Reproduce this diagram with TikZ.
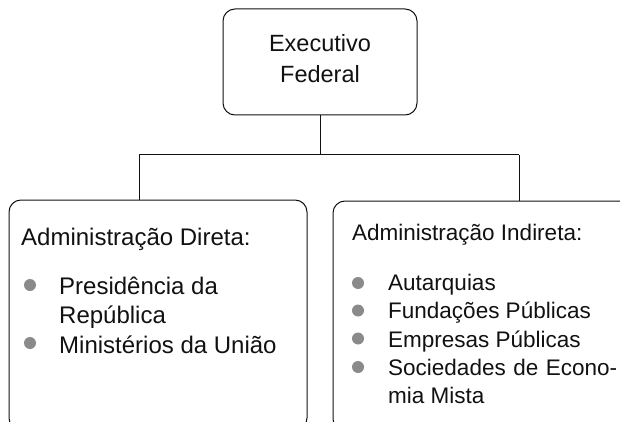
\documentclass[tikz,border=0pt]{standalone}
\usepackage{fontspec}
\setmainfont{Liberation Sans}
\definecolor{txt}{HTML}{111111}
\definecolor{bul}{HTML}{8A8A8A}
\begin{document}
\begin{tikzpicture}[x=1pt,y=-1pt,
  box/.style={draw=txt, line width=1pt, rounded corners=12pt, inner sep=0pt},
  conn/.style={draw=txt, line width=1pt},
  big/.style={text=txt, inner sep=0pt, font=\fontsize{24}{28}\selectfont},
  small/.style={text=txt, inner sep=0pt, font=\fontsize{22.5}{28}\selectfont},
  dot/.style={circle, fill=bul, inner sep=0pt, minimum size=12pt}]
\useasboundingbox (0,0) rectangle (620,422);
\clip (0,0) rectangle (620,422);
% boxes
\node[box, minimum width=194pt, minimum height=106pt] (top) at (320,62) {};
\node[box, minimum width=298pt, minimum height=230pt] (direta) at (158,315) {};
\node[box, minimum width=310pt, minimum height=230pt] (indireta) at (488,316) {};
% connectors
\coordinate (jl) at (139,155);
\coordinate (jr) at (519,155);
\draw[conn] (top.south) -- (top.south |- jl);
\draw[conn] (jl) -- (jr);
\draw[conn] (jl) -- (jl |- direta.north);
\draw[conn] (jr) -- (jr |- indireta.north);
% top text
\node[big, anchor=base, font=\fontsize{23.5}{28}\selectfont] (t1) at (320,52) {Executivo};
\node[big, anchor=base, font=\fontsize{23.5}{28}\selectfont] (t2) at (320,83) {Federal};
% left text
\node[big, anchor=base west] (lh) at (21,245) {Administração Direta:};
\node[dot] (lb1) at (30,285) {};
\node[big, anchor=base west] (l1) at (59,294) {Presidência da};
\node[big, anchor=base west] (l2) at (59,323.5) {República};
\node[dot] (lb2) at (30,343) {};
\node[big, anchor=base west] (l3) at (59,353) {Ministérios da União};
% right text
\node[small, anchor=base west] (rh) at (352,240) {Administração Indireta:};
\node[dot] (rb1) at (358,283) {};
\node[small, anchor=base west] (r1) at (388,290) {Autarquias};
\node[dot] (rb2) at (358,310.5) {};
\node[small, anchor=base west] (r2) at (388,318.5) {Fundações Públicas};
\node[dot] (rb3) at (358,338.5) {};
\node[small, anchor=base west] (r3) at (388,347) {Empresas Públicas};
\node[dot] (rb4) at (358,367) {};
\node[small, anchor=base west] (r4) at (388,375) {\makebox[229pt][s]{Sociedades de Econo-}};
\node[small, anchor=base west] (r5) at (388,403) {mia Mista};
\end{tikzpicture}
\end{document}
